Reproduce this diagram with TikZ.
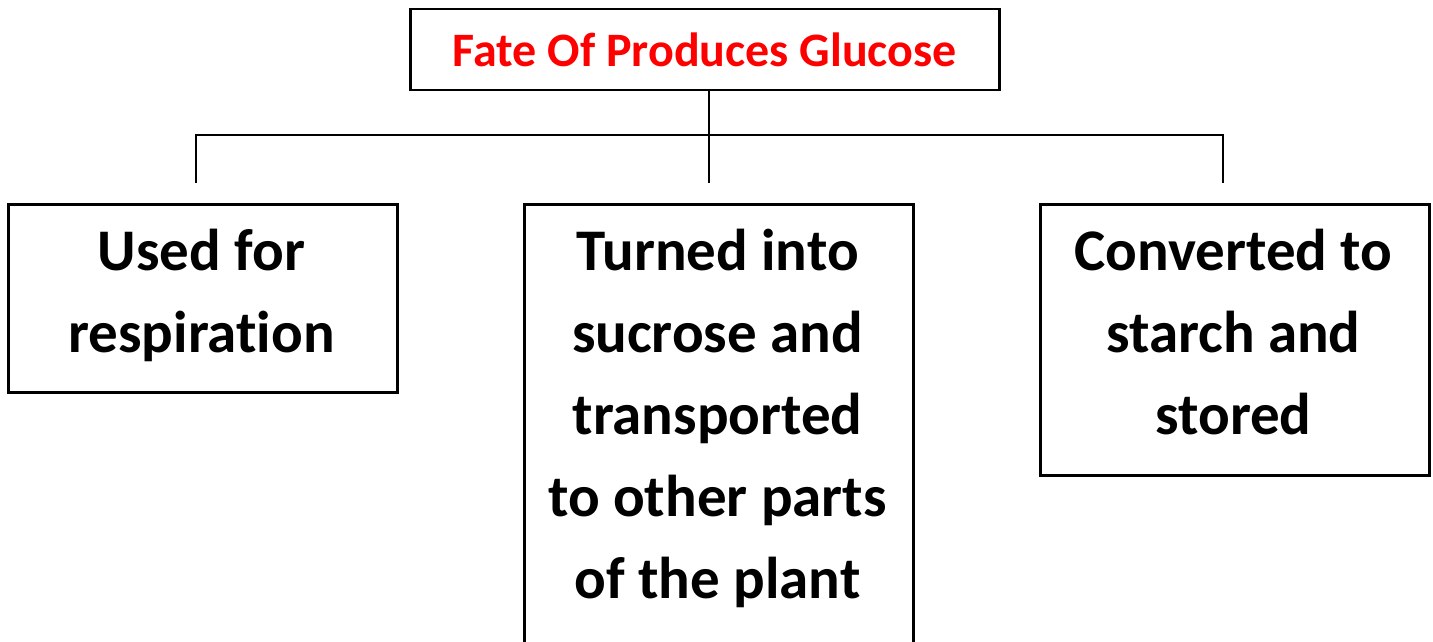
\documentclass[tikz,border=0pt]{standalone}
\usepackage{fontspec}
\setmainfont{Carlito}[Ligatures=NoCommon]
\begin{document}
\begin{tikzpicture}[x=1pt,y=-1pt,
  box/.style={draw, line width=2.5pt, inner sep=0pt, anchor=north west},
  lbl/.style={align=center, font=\bfseries\fontsize{59}{82}\selectfont, anchor=base, inner sep=0pt},
  conn/.style={line width=2.5pt}]
\useasboundingbox (0,0) rectangle (1433,642);
\clip (0,0) rectangle (1433,642);
\fill[white] (0,0) rectangle (1433,642);
\node[box, minimum width=589pt, minimum height=81pt, text=red,
      font=\bfseries\fontsize{48}{57}\selectfont] (title) at (409,8) {Fate Of Produces Glucose};
\node[box, minimum width=389pt, minimum height=188pt] (b1) at (7,203) {};
\node[box, minimum width=389pt, minimum height=460pt] (b2) at (523,203) {};
\node[box, minimum width=389pt, minimum height=271pt] (b3) at (1039,203) {};
\node[lbl] (t1) at (201.5,352) {Used for\\respiration};
\node[lbl] (t2) at (717.5,598) {Turned into\\sucrose and\\transported\\to other parts\\of the plant};
\node[lbl] (t3) at (1233.5,434) {Converted to\\starch and\\stored};
\coordinate (j) at (709,135);
\coordinate (c1) at (196,135);
\coordinate (c3) at (1223,135);
\coordinate (d1) at (196,183);
\coordinate (d2) at (709,183);
\coordinate (d3) at (1223,183);
\draw[conn] (j |- title.south) -- (j) -- (d2);
\draw[conn] (d1) -- (c1) -- (c3) -- (d3);
\end{tikzpicture}
\end{document}
